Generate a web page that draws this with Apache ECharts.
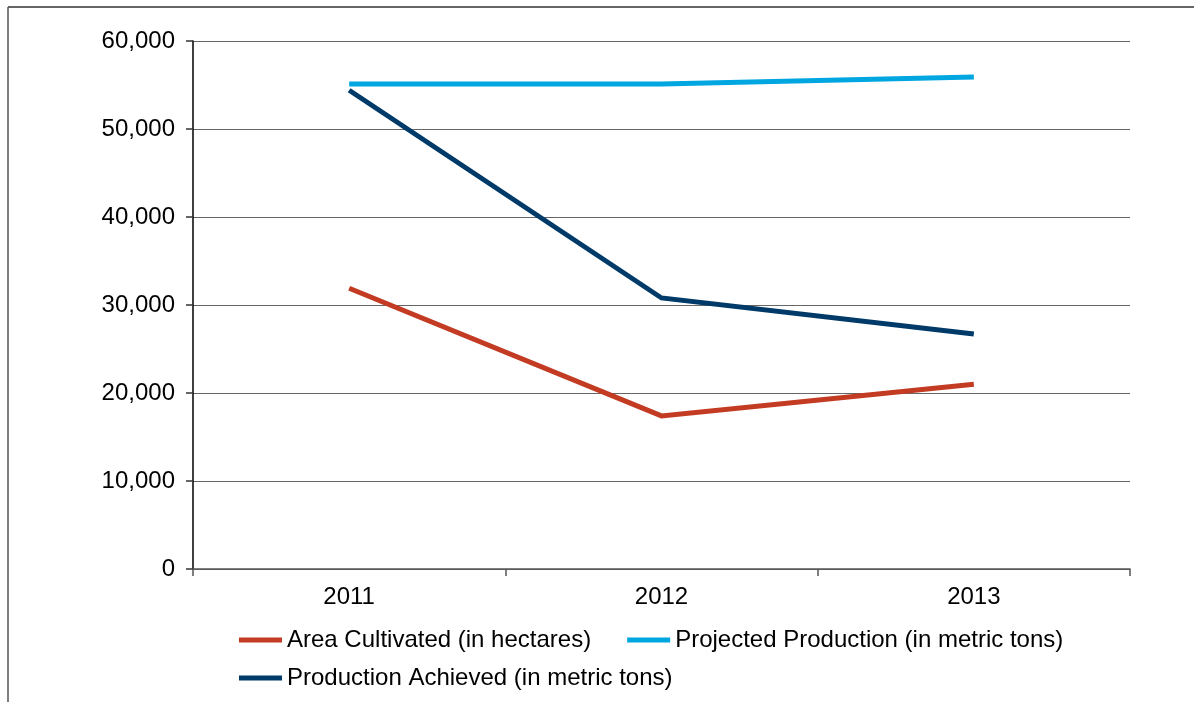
<!DOCTYPE html>
<html><head><meta charset="utf-8">
<script src="https://cdn.jsdelivr.net/npm/echarts@6/dist/echarts.min.js"></script>
<style>html,body{margin:0;padding:0;background:#fff}#c{width:1194px;height:702px}</style>
</head><body><div id="c"></div>
<script>
const categories = ['2011', '2012', '2013'];
const areaCultivated = [31900, 17400, 21000];
const projectedProduction = [55100, 55100, 55900];
const productionAchieved = [54400, 30800, 26700];
const yTicks = [0, 10000, 20000, 30000, 40000, 50000, 60000];

const names = ['Area Cultivated (in hectares)', 'Projected Production (in metric tons)', 'Production Achieved (in metric tons)'];
const colors = ['#C23B22', '#00A6E0', '#003A68'];
const font = 'Liberation Sans, Arial, sans-serif';
const chart = echarts.init(document.getElementById('c'), null, {renderer: 'canvas'});
const mk = (i, data) => ({
  name: names[i], type: 'line', data: data, symbol: 'none', silent: true,
  lineStyle: {color: colors[i], width: 5, cap: 'butt', join: 'miter'}, itemStyle: {color: colors[i]}
});
const legendBase = {
  itemWidth: 43, itemHeight: 5, icon: 'rect', itemGap: 36, orient: 'horizontal',
  textStyle: {fontFamily: font, fontSize: 24, color: '#000', padding: [0, 0, 0, 0]}
};
chart.setOption({
  animation: false,
  color: colors,
  grid: {left: 193, top: 41, right: 64, bottom: 133, containLabel: false},
  legend: [
    Object.assign({}, legendBase, {data: [names[0], names[1]], left: 234, top: 623}),
    Object.assign({}, legendBase, {data: [names[2]], left: 234, top: 661})
  ],
  xAxis: {
    type: 'category', data: categories, boundaryGap: true,
    axisLine: {lineStyle: {color: '#555', width: 1.5}},
    axisTick: {show: true, length: 7, lineStyle: {color: '#555', width: 1.5}},
    axisLabel: {fontFamily: font, fontSize: 24, color: '#000', margin: 16}
  },
  yAxis: {
    type: 'value', min: yTicks[0], max: yTicks[yTicks.length - 1], interval: 10000,
    axisLine: {show: true, lineStyle: {color: '#000', width: 1.5}},
    axisTick: {show: true, length: 7, lineStyle: {color: '#333', width: 1.5}},
    splitLine: {lineStyle: {color: '#666', width: 1.2}},
    axisLabel: {fontFamily: font, fontSize: 24, color: '#000', margin: 18,
      formatter: v => v.toLocaleString('en-US')}
  },
  graphic: [
    {type: 'line', shape: {x1: 8, y1: 7, x2: 1194, y2: 7}, style: {stroke: '#333', lineWidth: 1.5}, silent: true},
    {type: 'line', shape: {x1: 8, y1: 7, x2: 8, y2: 702}, style: {stroke: '#555', lineWidth: 1.5}, silent: true}
  ],
  series: [mk(0, areaCultivated), mk(1, projectedProduction), mk(2, productionAchieved)]
});
</script></body></html>
